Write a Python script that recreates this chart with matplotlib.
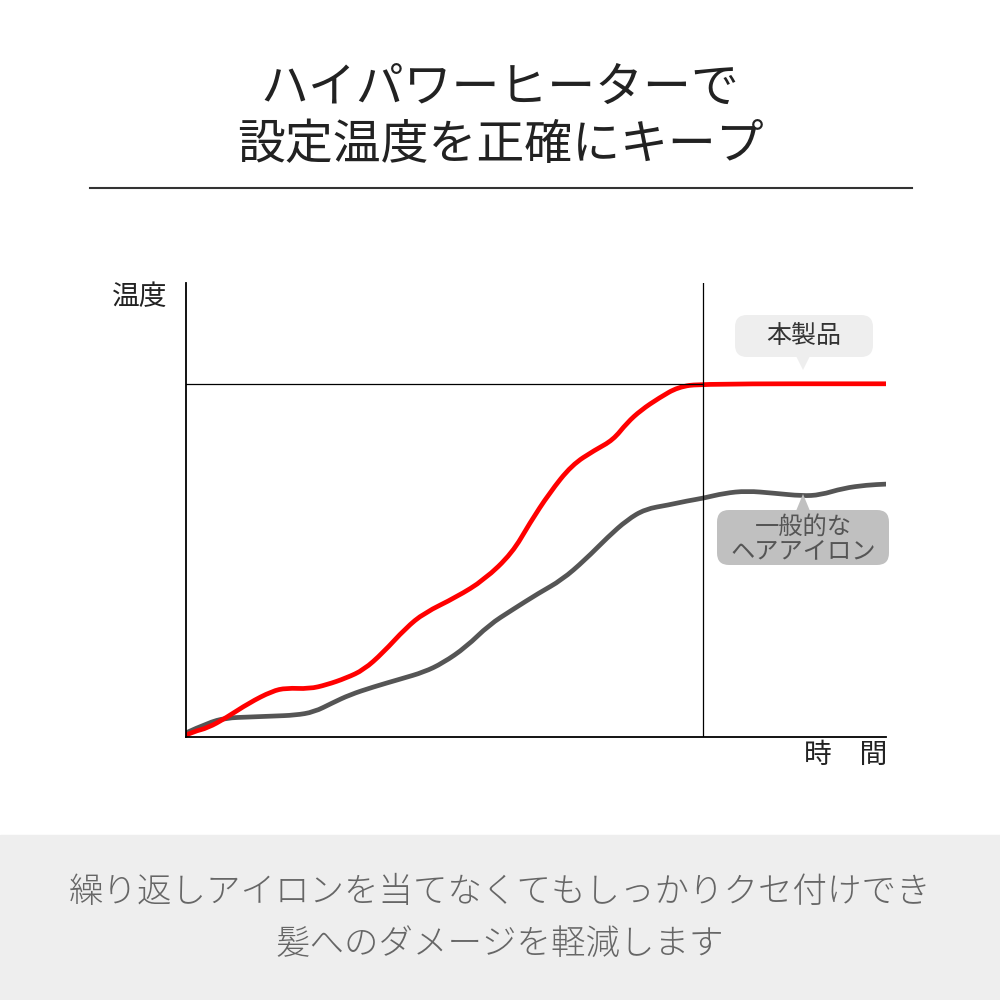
import matplotlib.pyplot as plt
from matplotlib.patches import FancyBboxPatch, Polygon, Rectangle, PathPatch
from matplotlib.path import Path

plt.rcParams['font.family'] = ['Noto Sans CJK JP', 'DejaVu Sans']

# 本製品 (red)
red_t = [0, 1.1, 3.1, 5.7, 9.0, 12.3, 14.3, 17.6, 20.1, 22.9, 25.4, 28.1, 31.4, 34.0,
         38.6, 42.6, 46.6, 49.1, 51.9, 55.1, 58.4, 61.0, 63.0, 65.0, 67.6, 70.3, 73.6, 100]
red_temp = [0.4, 1.2, 2.0, 4.2, 7.5, 10.1, 10.8, 10.6, 11.5, 13.0, 14.8, 18.5, 24.0, 27.3,
            30.8, 34.6, 40.5, 47.1, 53.7, 59.9, 63.2, 65.4, 69.2, 72.0, 74.7, 77.1, 77.8, 77.8]

# 一般的なヘアアイロン (gray)
gray_t = [0, 3.1, 5.7, 9.0, 12.3, 15.6, 18.3, 20.9, 23.4, 26.7, 30.7, 34.0, 36.7, 40.0,
          43.3, 46.6, 50.4, 53.7, 57.0, 60.3, 63.0, 65.6, 68.9, 71.6, 73.9, 76.9, 80.1,
          84.0, 88.0, 90.6, 93.9, 97.3, 100]
gray_temp = [0.9, 3.1, 4.2, 4.4, 4.6, 4.8, 5.5, 7.5, 9.3, 11.0, 12.8, 14.3, 16.3, 19.8,
             24.7, 28.0, 31.7, 34.6, 39.0, 44.1, 47.8, 50.2, 51.1, 52.0, 52.6, 53.7, 54.2,
             53.7, 53.1, 53.3, 54.8, 55.5, 55.7]

set_temp = 77.8
reach_t = 73.9


def smooth_path(xs, ys):
    # quadratic beziers: points act as control points, midpoints lie on the curve
    verts = [(xs[0], ys[0])]
    codes = [Path.MOVETO]
    for i in range(1, len(xs) - 1):
        mx = (xs[i] + xs[i + 1]) / 2
        my = (ys[i] + ys[i + 1]) / 2
        verts += [(xs[i], ys[i]), (mx, my)]
        codes += [Path.CURVE3, Path.CURVE3]
    verts.append((xs[-1], ys[-1]))
    codes.append(Path.LINETO)
    return Path(verts, codes)


fig = plt.figure(figsize=(10, 10), dpi=100)

# title
fig.text(0.5, 0.912, "ハイパワーヒーターで", ha="center", va="center", fontsize=34.5, color="#222222")
fig.text(0.5, 0.855, "設定温度を正確にキープ", ha="center", va="center", fontsize=34.5, color="#222222")
fig.add_artist(plt.Line2D([0.09, 0.912], [0.812, 0.812], color="#333333", lw=1.5))

# bottom band
fig.add_artist(Rectangle((0, 0), 1, 0.165, transform=fig.transFigure, color="#eeeeee", zorder=0))
fig.text(0.5, 0.108, "繰り返しアイロンを当てなくてもしっかりクセ付けでき", ha="center", va="center",
         fontsize=24.8, color="#666666", fontweight="light")
fig.text(0.5, 0.056, "髪へのダメージを軽減します", ha="center", va="center",
         fontsize=24.8, color="#666666", fontweight="light")

ax = fig.add_axes([0.186, 0.263, 0.7, 0.454])
ax.set_xlim(0, 100)
ax.set_ylim(0, 100)
for s in ["top", "right"]:
    ax.spines[s].set_visible(False)
ax.spines["left"].set_linewidth(1.3)
ax.spines["bottom"].set_linewidth(1.3)
ax.set_xticks([])
ax.set_yticks([])

ax.plot([0, reach_t], [set_temp, set_temp], color="black", lw=0.9)
ax.axvline(reach_t, color="black", lw=0.9)

ax.add_patch(PathPatch(smooth_path(gray_t, gray_temp), facecolor="none", edgecolor="#555555",
                       lw=3.4, joinstyle="round", capstyle="round"))
ax.add_patch(PathPatch(smooth_path(red_t, red_temp), facecolor="none", edgecolor="#ff0000",
                       lw=3.4, joinstyle="round", capstyle="round"))

fig.text(0.140, 0.703, "温度", ha="center", va="center", fontsize=20, color="#222222")
fig.text(0.887, 0.245, "時　間", ha="right", va="center", fontsize=20, color="#222222")

# callouts
box1 = FancyBboxPatch((0.735, 0.643), 0.138, 0.042, boxstyle="round,pad=0,rounding_size=0.012",
                      transform=fig.transFigure, facecolor="#eeeeee", edgecolor="none")
fig.add_artist(box1)
fig.add_artist(Polygon([[0.796, 0.644], [0.810, 0.644], [0.803, 0.630]], closed=True,
                       transform=fig.transFigure, facecolor="#eeeeee", edgecolor="none"))
fig.text(0.804, 0.664, "本製品", ha="center", va="center", fontsize=18, color="#333333")

box2 = FancyBboxPatch((0.717, 0.435), 0.172, 0.055, boxstyle="round,pad=0,rounding_size=0.012",
                      transform=fig.transFigure, facecolor="#c0c0c0", edgecolor="none")
fig.add_artist(box2)
fig.add_artist(Polygon([[0.796, 0.489], [0.810, 0.489], [0.803, 0.506]], closed=True,
                       transform=fig.transFigure, facecolor="#c0c0c0", edgecolor="none"))
fig.text(0.803, 0.461, "一般的な\nヘアアイロン", ha="center", va="center", fontsize=17.5,
         color="#555555", linespacing=0.95, multialignment="center")

fig.savefig("out.png", dpi=100)
